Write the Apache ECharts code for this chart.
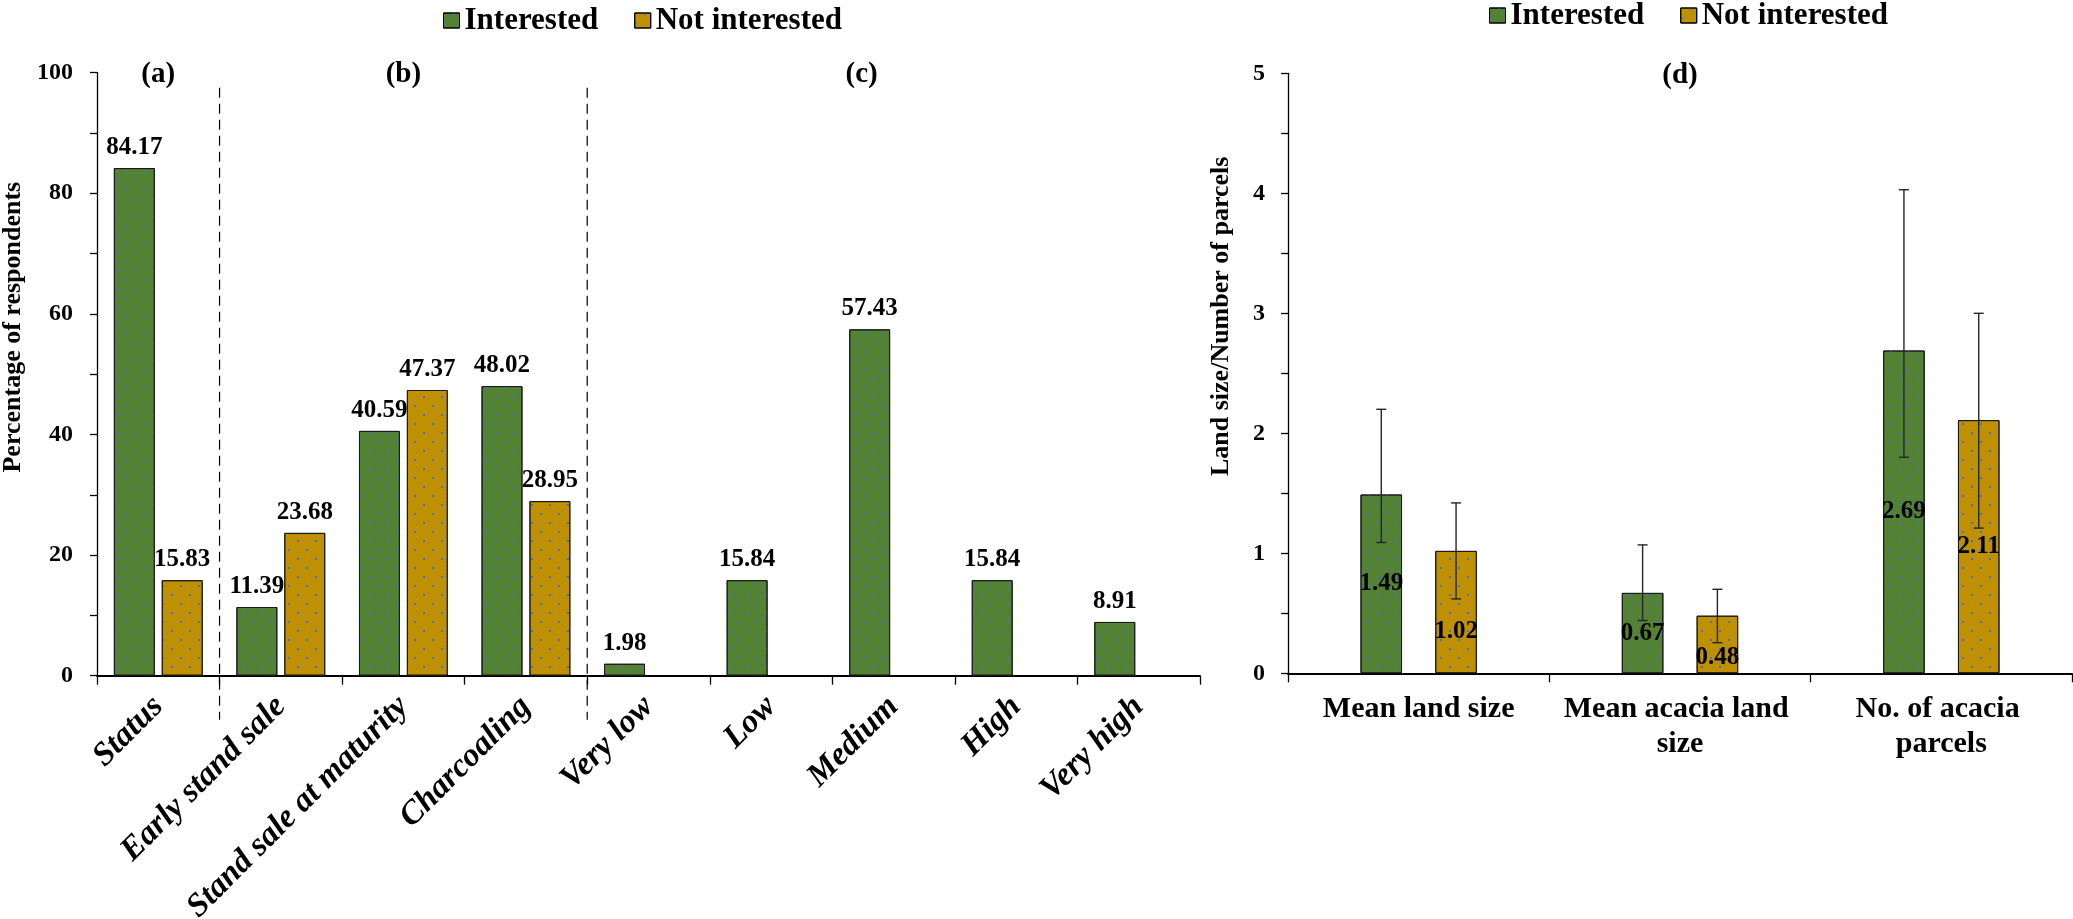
<!DOCTYPE html>
<html>
<head>
<meta charset="utf-8">
<script src="https://cdn.jsdelivr.net/npm/echarts@6/dist/echarts.min.js"></script>
<style>
html,body{margin:0;padding:0;background:#fff;}
#chart{width:2073px;height:919px;}
</style>
</head>
<body>
<div id="chart"></div>
<script>
// ---------- DATA ----------
const seriesNames = ['Interested', 'Not interested'];

const leftCategories = ['Status', 'Early stand sale', 'Stand sale at maturity', 'Charcoaling',
  'Very low', 'Low', 'Medium', 'High', 'Very high'];
const leftInterested = [84.17, 11.39, 40.59, 48.02, 1.98, 15.84, 57.43, 15.84, 8.91];
const leftNotInterested = [15.83, 23.68, 47.37, 28.95, null, null, null, null, null];

const rightCategories = ['Mean land size', 'Mean acacia land size', 'No. of acacia parcels'];
const rightInterested = [1.49, 0.67, 2.69];
const rightNotInterested = [1.02, 0.48, 2.11];
const errLowInterested = [1.09, 0.44, 1.80];
const errHighInterested = [2.20, 1.07, 4.03];
const errLowNotInterested = [0.62, 0.255, 1.21];
const errHighNotInterested = [1.42, 0.70, 3.00];

const leftPanelLabels = ['(a)', '(b)', '(c)'];
const leftPanelCategoryIndex = [0, 2, 6];
const rightPanelLabels = ['(d)'];
const rightPanelCategoryIndex = [1];
const separatorAfterCategory = [0, 3];

// ---------- STYLE ----------
const FONT = '"Liberation Serif", "Times New Roman", serif';
const GREEN = '#548235';
const GOLD = '#BF9000';
const DOT = '#4472C4';
const decal = {
  symbol: 'rect', symbolSize: 1, color: DOT,
  dashArrayX: [[2, 16], [0, 9, 2, 7]],
  dashArrayY: [2, 7], rotation: 0
};
const barBorder = { borderColor: '#1a1a1a', borderWidth: 1 };
const LEFT_BAR_W = 0.334, LEFT_BAR_GAP = 0.17;
const RIGHT_BAR_W = 0.159, RIGHT_BAR_GAP = 0.80;
const panelLabelDx = { '(c)': -32 };
const rightLabelNudge = { 'Not interested': { 0: 19, 1: 13 } };

function fmt(p) { return (p.value == null || p.value === '-') ? '' : Number(p.value).toFixed(2); }

function barSeries(name, values, axisIdx, color, isLeft) {
  const nudge = (!isLeft && rightLabelNudge[name]) || {};
  return {
    type: 'bar', name,
    xAxisIndex: axisIdx, yAxisIndex: axisIdx,
    barWidth: ((isLeft ? LEFT_BAR_W : RIGHT_BAR_W) * 100) + '%',
    barGap: ((isLeft ? LEFT_BAR_GAP : RIGHT_BAR_GAP) * 100) + '%',
    itemStyle: Object.assign({ color, decal }, barBorder),
    data: values.map((v, i) => {
      if (v == null) return '-';
      if (nudge[i] != null) return { value: v, label: { offset: [0, nudge[i]] } };
      return v;
    }),
    label: isLeft ? {
      show: true, position: 'top', distance: 8, formatter: fmt,
      fontFamily: FONT, fontWeight: 'bold', fontSize: 25, color: '#000'
    } : {
      show: true, position: 'inside', formatter: fmt,
      fontFamily: FONT, fontWeight: 'bold', fontSize: 25, color: '#000'
    },
    emphasis: { disabled: true },
    z: 2
  };
}

const errData = [];
rightCategories.forEach((c, i) => {
  errData.push([i, errLowInterested[i], errHighInterested[i], 0]);
  errData.push([i, errLowNotInterested[i], errHighNotInterested[i], 1]);
});

function axisLabelStyle(size) {
  return { fontFamily: FONT, fontWeight: 'bold', fontSize: size, color: '#000' };
}

const legendCommon = {
  data: seriesNames, icon: 'rect', itemWidth: 16, itemHeight: 15, itemGap: 36,
  selectedMode: false,
  itemStyle: { borderColor: '#000', borderWidth: 1 },
  textStyle: { fontFamily: FONT, fontWeight: 'bold', fontSize: 31, color: '#000' }
};

const option = {
  animation: false,
  backgroundColor: '#fff',
  textStyle: { fontFamily: FONT },
  legend: [
    Object.assign({}, legendCommon, { left: 438, top: 0 }),
    Object.assign({}, legendCommon, { left: 1484, top: -5 })
  ],
  grid: [
    { left: 97, top: 72.6, width: 1103, height: 603.1, outerBoundsMode: 'none' },
    { left: 1288, top: 73.3, width: 784, height: 600, outerBoundsMode: 'none' }
  ],
  xAxis: [
    {
      type: 'category', gridIndex: 0, data: leftCategories,
      axisLine: { show: true, lineStyle: { color: '#000', width: 1.8 } },
      axisTick: { show: true, length: 9, lineStyle: { color: '#000', width: 1.3 } },
      axisLabel: Object.assign({ interval: 0, rotate: 45, margin: 26, fontStyle: 'italic' }, axisLabelStyle(33)),
      splitLine: { show: false }
    },
    {
      type: 'category', gridIndex: 1, data: rightCategories,
      axisLine: { show: true, lineStyle: { color: '#000', width: 1.8 } },
      axisTick: { show: true, length: 9, lineStyle: { color: '#000', width: 1.3 } },
      axisLabel: Object.assign({ interval: 0, margin: 18, lineHeight: 35, width: 250, overflow: 'break' }, axisLabelStyle(30)),
      splitLine: { show: false }
    }
  ],
  yAxis: [
    {
      type: 'value', gridIndex: 0, min: 0, max: 100, interval: 20,
      axisLine: { show: true, lineStyle: { color: '#000', width: 1.3 } },
      axisTick: { show: true, length: 7, lineStyle: { color: '#000', width: 1.3 } },
      minorTick: { show: true, splitNumber: 2, length: 7, lineStyle: { color: '#000', width: 1.3 } },
      splitLine: { show: false }, minorSplitLine: { show: false },
      axisLabel: Object.assign({ margin: 24 }, axisLabelStyle(24)),
      name: 'Percentage of respondents', nameLocation: 'middle', nameRotate: 90, nameGap: 64,
      nameTextStyle: Object.assign({ padding: [0, 0, 0, 94] }, axisLabelStyle(26))
    },
    {
      type: 'value', gridIndex: 1, min: 0, max: 5, interval: 1,
      axisLine: { show: true, lineStyle: { color: '#000', width: 1.3 } },
      axisTick: { show: true, length: 7, lineStyle: { color: '#000', width: 1.3 } },
      minorTick: { show: true, splitNumber: 2, length: 7, lineStyle: { color: '#000', width: 1.3 } },
      splitLine: { show: false }, minorSplitLine: { show: false },
      axisLabel: Object.assign({ margin: 23 }, axisLabelStyle(24)),
      name: 'Land size/Number of parcels', nameLocation: 'middle', nameRotate: 90, nameGap: 54,
      nameTextStyle: Object.assign({ padding: [0, 0, 0, 114] }, axisLabelStyle(26))
    }
  ],
  series: [
    barSeries('Interested', leftInterested, 0, GREEN, true),
    barSeries('Not interested', leftNotInterested, 0, GOLD, true),
    barSeries('Interested', rightInterested, 1, GREEN, false),
    barSeries('Not interested', rightNotInterested, 1, GOLD, false),
    {
      type: 'custom', name: 'errorbars', xAxisIndex: 1, yAxisIndex: 1,
      silent: true, clip: false, z: 5,
      encode: { x: 0, y: [1, 2] },
      data: errData,
      renderItem(params, api) {
        const cat = api.value(0), lo = api.value(1), hi = api.value(2), which = api.value(3);
        const band = api.size([1, 0])[0];
        const bw = band * RIGHT_BAR_W, gap = bw * RIGHT_BAR_GAP;
        const dx = (which === 0 ? -1 : 1) * (bw + gap) / 2;
        const pLo = api.coord([cat, lo]), pHi = api.coord([cat, hi]);
        const x = pLo[0] + dx, cap = 5;
        const st = { stroke: '#262626', lineWidth: 1.4 };
        return {
          type: 'group', children: [
            { type: 'line', shape: { x1: x, y1: pLo[1], x2: x, y2: pHi[1] }, style: st },
            { type: 'line', shape: { x1: x - cap, y1: pHi[1], x2: x + cap, y2: pHi[1] }, style: st },
            { type: 'line', shape: { x1: x - cap, y1: pLo[1], x2: x + cap, y2: pLo[1] }, style: st }
          ]
        };
      }
    },
    {
      type: 'custom', name: 'separators', xAxisIndex: 0, yAxisIndex: 0,
      silent: true, clip: false, z: 1,
      encode: { x: 0, y: 1 },
      data: separatorAfterCategory.map(i => [i, 97.5]),
      renderItem(params, api) {
        const i = api.value(0);
        const band = api.size([1, 0])[0];
        const top = api.coord([i, api.value(1)]);
        const base = api.coord([i, 0]);
        const x = top[0] + band / 2;
        return {
          type: 'line',
          shape: { x1: x, y1: top[1], x2: x, y2: base[1] + 44 },
          style: { stroke: '#000', lineWidth: 1.2, lineDash: [10, 6] }
        };
      }
    },
    {
      type: 'custom', name: 'panelLeft', xAxisIndex: 0, yAxisIndex: 0,
      silent: true, clip: false, z: 6,
      encode: { x: 0, y: 1 },
      data: leftPanelCategoryIndex.map(i => [i, 100]),
      renderItem(params, api) {
        const t = leftPanelLabels[params.dataIndex];
        const p = api.coord([api.value(0), api.value(1)]);
        return {
          type: 'text', x: p[0] + (panelLabelDx[t] || 0), y: p[1] + 2,
          style: { text: t, fill: '#000', font: 'bold 29px ' + FONT, align: 'center', verticalAlign: 'middle' }
        };
      }
    },
    {
      type: 'custom', name: 'panelRight', xAxisIndex: 1, yAxisIndex: 1,
      silent: true, clip: false, z: 6,
      encode: { x: 0, y: 1 },
      data: rightPanelCategoryIndex.map(i => [i, 5]),
      renderItem(params, api) {
        const t = rightPanelLabels[params.dataIndex];
        const p = api.coord([api.value(0), api.value(1)]);
        return {
          type: 'text', x: p[0], y: p[1] + 2,
          style: { text: t, fill: '#000', font: 'bold 29px ' + FONT, align: 'center', verticalAlign: 'middle' }
        };
      }
    }
  ]
};

const chart = echarts.init(document.getElementById('chart'), null, { renderer: 'canvas' });
chart.setOption(option);
</script>
</body>
</html>
